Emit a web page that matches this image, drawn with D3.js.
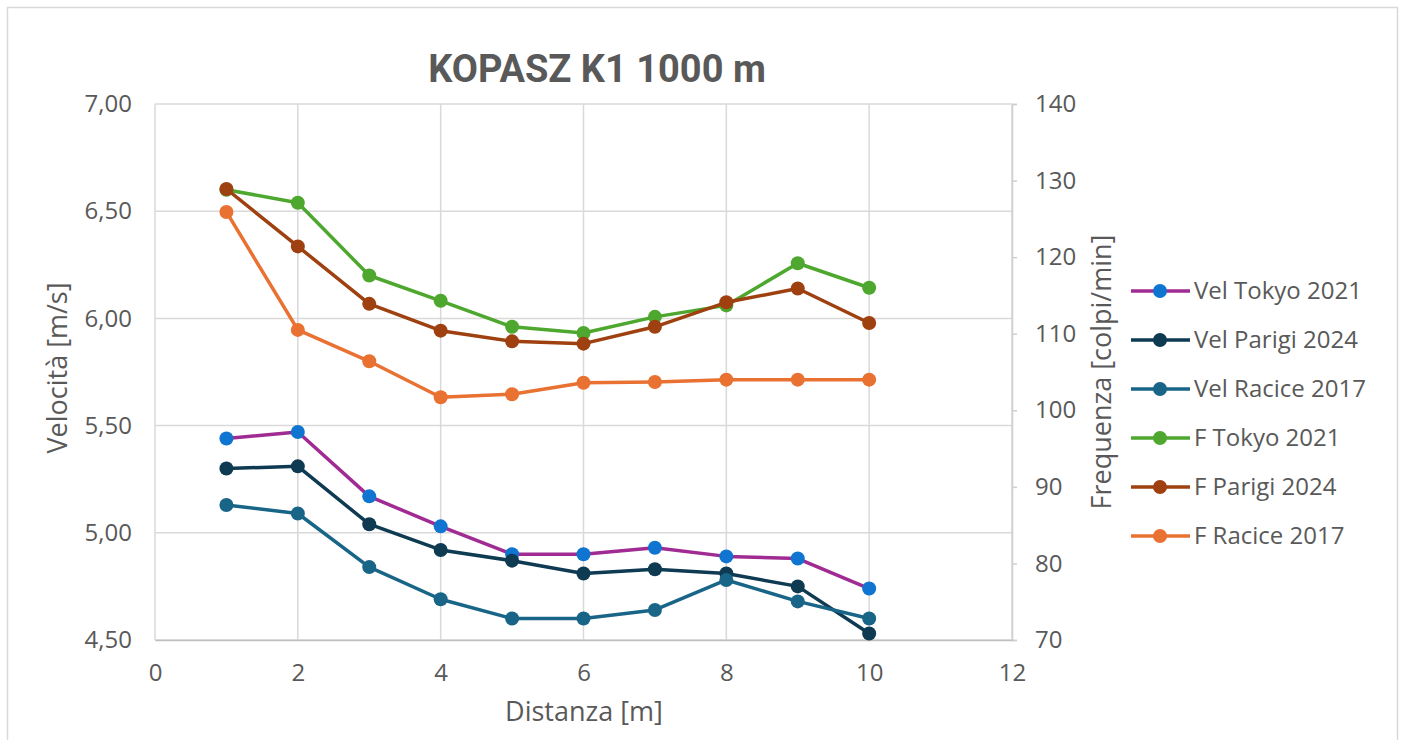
<!DOCTYPE html>
<html>
<head>
<meta charset="utf-8">
<script src="https://cdn.jsdelivr.net/npm/d3@7"></script>
<style>
  html, body { margin: 0; padding: 0; background: #ffffff; }
  svg { display: block; }
</style>
</head>
<body>
<svg id="chart" width="1408" height="740"></svg>
<script>
// ---- data ----
const distance = [1, 2, 3, 4, 5, 6, 7, 8, 9, 10];
const velTokyo2021  = [5.44, 5.47, 5.17, 5.03, 4.90, 4.90, 4.93, 4.89, 4.88, 4.74];
const velParigi2024 = [5.30, 5.31, 5.04, 4.92, 4.87, 4.81, 4.83, 4.81, 4.75, 4.53];
const velRacice2017 = [5.13, 5.09, 4.84, 4.69, 4.60, 4.60, 4.64, 4.78, 4.68, 4.60];
const fTokyo2021    = [128.8, 127.1, 117.6, 114.3, 110.9, 110.1, 112.2, 113.7, 119.2, 116.0];
const fParigi2024   = [128.9, 121.4, 113.9, 110.4, 109.0, 108.7, 110.9, 114.1, 115.9, 111.4];
const fRacice2017   = [125.9, 110.5, 106.4, 101.7, 102.1, 103.6, 103.7, 104.0, 104.0, 104.0];
const seriesNames = ["Vel Tokyo 2021", "Vel Parigi 2024", "Vel Racice 2017", "F Tokyo 2021", "F Parigi 2024", "F Racice 2017"];
const xTicks = [0, 2, 4, 6, 8, 10, 12];
const leftTicks = [4.5, 5.0, 5.5, 6.0, 6.5, 7.0];
const rightTicks = [70, 80, 90, 100, 110, 120, 130, 140];
const titleText = "KOPASZ K1 1000 m";
const xTitle = "Distanza [m]";
const yLeftTitle = "Velocità [m/s]";
const yRightTitle = "Frequenza [colpi/min]";

// ---- styles ----
const series = [
  { name: seriesNames[0], values: velTokyo2021,  axis: "left",  line: "#A02B93", marker: "#0F75D0" },
  { name: seriesNames[1], values: velParigi2024, axis: "left",  line: "#0E3A52", marker: "#0E3A52" },
  { name: seriesNames[2], values: velRacice2017, axis: "left",  line: "#186587", marker: "#186587" },
  { name: seriesNames[3], values: fTokyo2021,    axis: "right", line: "#4EA72E", marker: "#4EA72E" },
  { name: seriesNames[4], values: fParigi2024,   axis: "right", line: "#9E400F", marker: "#9E400F" },
  { name: seriesNames[5], values: fRacice2017,   axis: "right", line: "#E97132", marker: "#E97132" }
];
const textColor = "#595959";
const gridColor = "#d9d9d9";
const font = "'Open Sans', 'Liberation Sans', sans-serif";

const svg = d3.select("#chart");
const L = 155, R = 1012, T = 104, B = 640;

const x = d3.scaleLinear().domain([0, 12]).range([L, R]);
const yL = d3.scaleLinear().domain([4.5, 7.0]).range([B, T]);
const yR = d3.scaleLinear().domain([70, 140]).range([B, T]);

// chart border
svg.append("rect").attr("x", 7.5).attr("y", 7.5).attr("width", 1390).attr("height", 760)
  .attr("fill", "#ffffff").attr("stroke", "#d9d9d9").attr("stroke-width", 1.5);

// gridlines
svg.append("g").selectAll("line.h").data(leftTicks).join("line")
  .attr("x1", L).attr("x2", R).attr("y1", d => yL(d)).attr("y2", d => yL(d))
  .attr("stroke", gridColor).attr("stroke-width", 1.5);
svg.append("g").selectAll("line.v").data(xTicks).join("line")
  .attr("x1", d => x(d)).attr("x2", d => x(d)).attr("y1", T).attr("y2", B)
  .attr("stroke", gridColor).attr("stroke-width", 1.5);

// axes
const fmtL = v => d3.format(".2f")(v).replace(".", ",");
const gL = svg.append("g").attr("transform", `translate(${L},0)`)
  .call(d3.axisLeft(yL).tickValues(leftTicks).tickFormat(fmtL).tickSize(0).tickPadding(23));
gL.select(".domain").remove();

const gR = svg.append("g").attr("transform", `translate(${R},0)`)
  .call(d3.axisRight(yR).tickValues(rightTicks).tickFormat(d3.format("d")).tickSize(5).tickPadding(18));
gR.select(".domain").attr("stroke", "#cfcfcf").attr("stroke-width", 1.5);
gR.selectAll(".tick line").attr("stroke", "#cfcfcf").attr("stroke-width", 1.5);

const gX = svg.append("g").attr("transform", `translate(0,${B})`)
  .call(d3.axisBottom(x).tickValues(xTicks).tickFormat(d3.format("d")).tickSize(0).tickPadding(24));
gX.select(".domain").attr("stroke", "#bfbfbf").attr("stroke-width", 1.5);

[gL, gR, gX].forEach(g => g.selectAll("text")
  .attr("fill", textColor).style("font-family", font).style("font-size", "24px"));

// series
series.forEach(s => {
  const y = s.axis === "left" ? yL : yR;
  const pts = distance.map((d, i) => [d, s.values[i]]);
  const g = svg.append("g");
  g.append("path").datum(pts)
    .attr("d", d3.line().x(d => x(d[0])).y(d => y(d[1])))
    .attr("fill", "none").attr("stroke", s.line).attr("stroke-width", 3.5)
    .attr("stroke-linejoin", "round");
  g.selectAll("circle").data(pts).join("circle")
    .attr("cx", d => x(d[0])).attr("cy", d => y(d[1])).attr("r", 7)
    .attr("fill", s.marker);
});

// titles
svg.append("text").attr("x", 597).attr("y", 82).attr("text-anchor", "middle")
  .attr("fill", textColor).style("font-family", "Roboto, 'Liberation Sans', sans-serif")
  .style("font-weight", "bold").style("font-size", "38px").text(titleText);

svg.append("text").attr("x", 584).attr("y", 721).attr("text-anchor", "middle")
  .attr("fill", textColor).style("font-family", font).style("font-size", "27px").text(xTitle);

svg.append("text").attr("transform", "translate(67,368) rotate(-90)").attr("text-anchor", "middle")
  .attr("fill", textColor).style("font-family", font).style("font-size", "27px").text(yLeftTitle);

svg.append("text").attr("transform", "translate(1111,372) rotate(-90)").attr("text-anchor", "middle")
  .attr("fill", textColor).style("font-family", font).style("font-size", "27px").text(yRightTitle);

// legend
const leg = svg.append("g");
series.forEach((s, i) => {
  const cy = 291 + i * 49;
  leg.append("line").attr("x1", 1131).attr("x2", 1190).attr("y1", cy).attr("y2", cy)
    .attr("stroke", s.line).attr("stroke-width", 3.5);
  leg.append("circle").attr("cx", 1160).attr("cy", cy).attr("r", 7).attr("fill", s.marker);
  leg.append("text").attr("x", 1194).attr("y", cy).attr("dy", "0.35em")
    .attr("fill", textColor).style("font-family", font).style("font-size", "24px").text(s.name);
});
</script>
</body>
</html>
